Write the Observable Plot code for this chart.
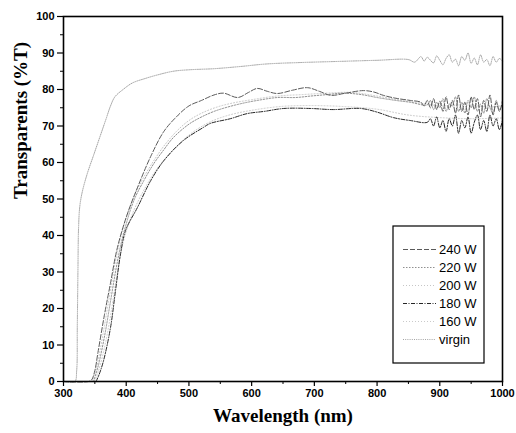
<!DOCTYPE html>
<html>
<head>
<meta charset="utf-8">
<script src="https://cdn.jsdelivr.net/npm/d3@7"></script>
<script src="https://cdn.jsdelivr.net/npm/@observablehq/plot@0.6"></script>
<style>
  html, body { margin: 0; padding: 0; background: #fff; }
  #chart svg { display: block; }
</style>
</head>
<body>
<div id="chart"></div>
<script>
// ---- data (wavelength nm, transmittance %T) ----
const xTicks = [300, 400, 500, 600, 700, 800, 900, 1000];
const yTicks = [0, 10, 20, 30, 40, 50, 60, 70, 80, 90, 100];
const seriesNames = ["240 W", "220 W", "200 W", "180 W", "160 W", "virgin"];

const s240 = [[300,0],[340,0],[345,0.5],[350,3],[355,8],[365,18],[375,27],[385,36],[400,45],[420,54],[440,62],[460,68.5],[480,72.5],[500,75.5],[520,77],[540,78.5],[555,79],[578,77.8],[595,79.2],[609,80.3],[625,79.5],[641,78.9],[665,79.8],[689,80.5],[708,79.5],[726,78.4],[750,79],[778,79.7],[795,79.3],[810,78.4],[830,77.6],[853,77],[870,76.5],[875,75.5],[880,77],[885,75],[890,77.5],[895,74.5],[900,76.8],[905,74],[910,78],[915,74.5],[920,77],[925,73.5],[930,78.5],[935,74],[940,76.5],[945,73],[950,78],[955,74.5],[960,77.5],[965,72.5],[970,77],[975,74],[980,78.5],[985,73],[990,76.5],[995,74],[1000,77]];

const s220 = [[348,0],[355,4],[365,12],[375,22],[385,32],[395,40],[412,49.5],[428,55],[444,59.7],[460,63.5],[475,66.8],[500,70.5],[518,72.3],[540,74],[562,75.2],[585,76.2],[609,77],[641,77.8],[670,77.8],[694,78.2],[720,78.6],[747,79],[775,78.6],[800,77.8],[830,77],[853,76.5],[880,75.8],[885,77],[890,74.5],[895,76.5],[900,75],[905,77.5],[910,74],[915,76],[920,75.5],[925,78],[930,74],[935,76.5],[940,73.5],[945,77],[950,75],[955,78],[960,74],[965,76],[970,73.5],[975,77.5],[980,75],[985,73.5],[990,77],[995,74.5],[1000,76]];

const s200 = [[346,0],[353,4],[363,13],[373,23],[383,33],[395,42],[412,50.5],[428,56],[444,60.5],[460,64.5],[480,68.5],[500,71.5],[520,73.5],[545,75.2],[570,76.3],[600,77.2],[640,78.2],[680,78.6],[720,79],[760,79.2],[800,78.2],[840,77],[880,76],[900,75.5],[940,75.8],[980,75.2],[1000,75.6]];

const s180 = [[352,0],[357,2],[364,5.8],[375,14.8],[383,25],[391,35],[399,41.4],[418,47.7],[439,55],[460,60.5],[491,66],[523,69.6],[534,70.7],[566,72],[593,73.4],[620,74],[651,74.8],[694,74.8],[730,74.5],[774,74.8],[800,73.8],[826,72.3],[853,71.5],[880,71],[885,72],[890,70],[895,72.5],[900,69.5],[905,71.5],[910,68.5],[915,72],[920,70],[925,73],[930,68],[935,71.5],[940,69.5],[945,72.5],[950,68],[955,71],[960,73],[965,69],[970,71.5],[975,68.5],[980,73],[985,70],[990,72],[995,69],[1000,71.5]];

const s160 = [[350,0],[356,3],[365,9],[375,18],[385,29],[395,38],[410,46],[430,53],[450,58.5],[475,63.5],[500,67.5],[530,70.8],[560,72.8],[600,74.3],[650,75.4],[700,75.6],[750,75.3],[800,74.6],[850,73],[900,72.3],[950,72],[1000,72.2]];

const sVirgin = [[300,0],[318,0],[321,3],[322,15],[323,30],[324,42],[326,48],[330,52],[338,57],[348,62],[358,67],[368,72],[375,75.5],[382,78],[395,80],[410,81.8],[430,83],[450,84],[475,85],[500,85.4],[540,85.7],[582,86.3],[624,87],[680,87.4],[740,87.7],[800,88],[850,88.2],[860,87.5],[870,89],[875,87.8],[880,88.8],[890,87.3],[895,89.2],[900,88],[905,86.8],[910,88.5],[915,89.5],[920,87.5],[925,88.3],[930,86.5],[935,89],[940,88],[945,90],[950,87.2],[955,88.6],[960,86.8],[965,89.5],[970,87.5],[975,88.2],[980,86.5],[985,89],[990,87.5],[995,88.5],[1000,87.8]];

const seriesData = [s240, s220, s200, s180, s160, sVirgin];

// ---- styles ----
const styles = [
  {stroke: "#5a5a5a", dash: "5,2", width: 1},
  {stroke: "#909090", dash: "1.5,1.5", width: 1},
  {stroke: "#c6c6c6", dash: "1,2", width: 1},
  {stroke: "#262626", dash: "4,1.5,1,1.5", width: 1},
  {stroke: "#cacaca", dash: "1,2", width: 1},
  {stroke: "#a4a4a4", dash: "1,1.2", width: 1}
];

const W = 516, H = 433;
const mL = 63, mR = 14, mT = 16, mB = 52;

const lineMarks = seriesData.map((d, i) =>
  Plot.line(d, {
    x: d => d[0], y: d => d[1],
    stroke: styles[i].stroke,
    strokeWidth: styles[i].width,
    strokeDasharray: styles[i].dash,
    curve: "catmull-rom"
  })
);

const minorX = d3.range(350, 1000, 100);
const minorY = d3.range(5, 100, 10);

const plot = Plot.plot({
  width: W, height: H,
  marginLeft: mL, marginRight: mR, marginTop: mT, marginBottom: mB,
  x: {domain: [300, 1000]},
  y: {domain: [0, 100]},
  style: {background: "#fff", fontFamily: "'Liberation Sans', Arial, sans-serif"},
  marks: [
    ...lineMarks.slice().reverse(),
    Plot.frame({stroke: "#000", strokeWidth: 1.6}),
    Plot.axisX({ticks: xTicks, tickSize: 5, tickPadding: 3, tickFormat: d => String(d),
      fontSize: 11, fontWeight: "bold", label: null, stroke: "#000", strokeWidth: 1.2}),
    Plot.axisX({ticks: minorX, tickSize: 3, text: null, label: null, stroke: "#000"}),
    Plot.axisY({ticks: yTicks, tickSize: 6, tickPadding: 3, tickFormat: d => String(d),
      fontSize: 11, fontWeight: "bold", label: null, stroke: "#000", strokeWidth: 1.2}),
    Plot.axisY({ticks: minorY, tickSize: 3, text: null, label: null, stroke: "#000"}),
    Plot.text(["Wavelength (nm)"], {frameAnchor: "bottom", dy: 40, text: d => d,
      fontSize: 19, fontWeight: "bold", fontFamily: "'Liberation Serif', 'Times New Roman', serif", fill: "#000"}),
    Plot.text(["Transparents (%T)"], {frameAnchor: "left", dx: -43, rotate: -90, text: d => d,
      fontSize: 19, fontWeight: "bold", fontFamily: "'Liberation Serif', 'Times New Roman', serif", fill: "#000"})
  ]
});

document.getElementById("chart").appendChild(plot);

// ---- legend box (inside the frame, lower right) ----
const svg = d3.select(plot);
const lg = svg.append("g").attr("transform", "translate(393,226)").attr("text-anchor", "start");
lg.append("rect").attr("width", 91).attr("height", 137)
  .attr("fill", "#fff").attr("stroke", "#000").attr("stroke-width", 1.2);
seriesNames.forEach((name, i) => {
  const yy = 23.5 + i * 18;
  lg.append("line").attr("x1", 10).attr("x2", 43).attr("y1", yy).attr("y2", yy)
    .attr("stroke", styles[i].stroke).attr("stroke-width", styles[i].width)
    .attr("stroke-dasharray", styles[i].dash);
  lg.append("text").attr("x", 46).attr("y", yy).attr("dy", "0.36em")
    .attr("text-anchor", "start")
    .attr("font-size", 13).attr("font-family", "'Liberation Sans', Arial, sans-serif")
    .attr("fill", "#000").text(name);
});
</script>
</body>
</html>
